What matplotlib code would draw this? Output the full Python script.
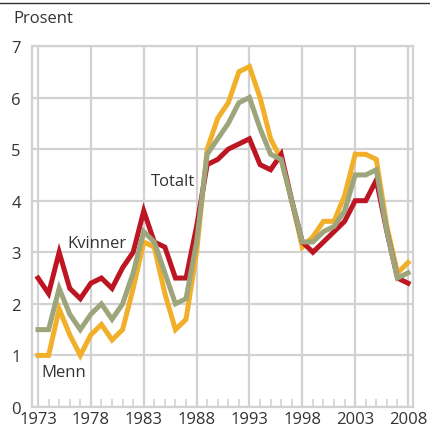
import numpy as np
import matplotlib
matplotlib.use("Agg")
import matplotlib.pyplot as plt
from matplotlib.lines import Line2D
from matplotlib.ticker import MultipleLocator

plt.rcParams['font.family'] = ['Open Sans', 'DejaVu Sans']

# data (prosent)
years = np.arange(1973, 2009)
menn = [1.0, 1.0, 1.9, 1.4, 1.0, 1.4, 1.6, 1.3, 1.5, 2.3,
        3.2, 3.1, 2.2, 1.5, 1.7, 3.0, 5.0, 5.6, 5.9, 6.5,
        6.6, 6.0, 5.2, 4.8, 4.0, 3.1, 3.3, 3.6, 3.6, 4.1,
        4.9, 4.9, 4.8, 3.5, 2.6, 2.8]
kvinner = [2.5, 2.2, 3.0, 2.3, 2.1, 2.4, 2.5, 2.3, 2.7, 3.0,
           3.8, 3.2, 3.1, 2.5, 2.5, 3.5, 4.7, 4.8, 5.0, 5.1,
           5.2, 4.7, 4.6, 4.9, 4.0, 3.2, 3.0, 3.2, 3.4, 3.6,
           4.0, 4.0, 4.4, 3.4, 2.5, 2.4]
totalt = [1.5, 1.5, 2.3, 1.8, 1.5, 1.8, 2.0, 1.7, 2.0, 2.6,
          3.4, 3.2, 2.6, 2.0, 2.1, 3.2, 4.9, 5.2, 5.5, 5.9,
          6.0, 5.4, 4.9, 4.8, 4.0, 3.2, 3.2, 3.4, 3.5, 3.8,
          4.5, 4.5, 4.6, 3.4, 2.5, 2.6]
xticks = [1973, 1978, 1983, 1988, 1993, 1998, 2003, 2008]

grey = '#d2d2d2'
fig = plt.figure(figsize=(4.30, 4.31), dpi=100)
ax = fig.add_axes([0.0744, 0.0534, 0.8861, 0.8376])

ax.plot(years, menn, color='#f2b02a', lw=3.6, solid_joinstyle='miter', zorder=3)
ax.plot(years, kvinner, color='#be1522', lw=3.6, solid_joinstyle='miter', zorder=4)
ax.plot(years, totalt, color='#9ca57b', lw=3.6, solid_joinstyle='miter', zorder=5)

ax.set_xlim(1972.43, 2008.47)
ax.set_ylim(0, 7)
ax.set_xticks(xticks)
ax.xaxis.set_minor_locator(MultipleLocator(1))
ax.set_yticks(range(0, 8))
ax.grid(True, color=grey, lw=1.6, zorder=0)
ax.set_axisbelow(True)
for s in ax.spines.values():
    s.set_color(grey)
    s.set_linewidth(1.6)
ax.tick_params(axis='x', which='both', direction='in', length=5.8, width=1.2,
               color=grey, labelsize=12, pad=3, labelcolor='#333333')
ax.tick_params(axis='y', length=0, labelsize=12, pad=8, labelcolor='#333333')

ax.text(1983.7, 4.3, 'Totalt', fontsize=12, color='#333333', zorder=6)
ax.text(1975.8, 3.1, 'Kvinner', fontsize=12, color='#333333', zorder=6)
ax.text(1973.3, 0.6, 'Menn', fontsize=12, color='#333333', zorder=6)
fig.text(0.03, 0.957, 'Prosent', fontsize=12, color='#333333', va='center')

fig.add_artist(Line2D([0, 1], [0.9907, 0.9907], color='#333333', lw=1.0))

fig.savefig('out.png', dpi=100)
